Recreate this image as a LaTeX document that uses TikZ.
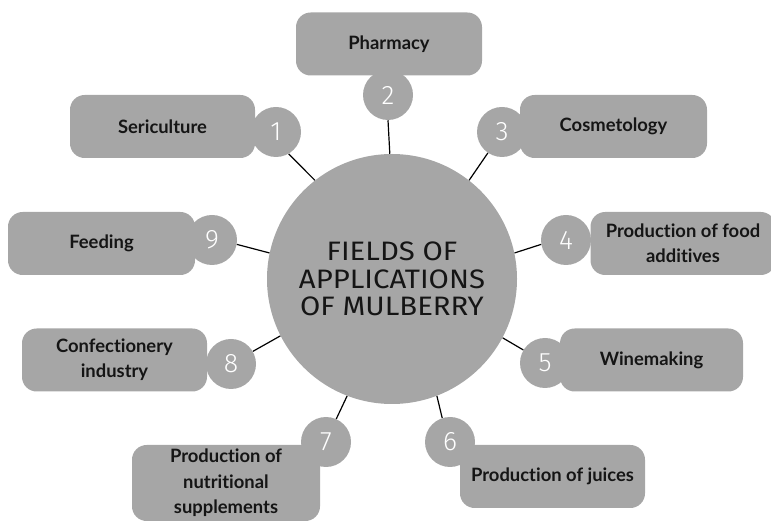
\documentclass[tikz,border=0pt]{standalone}
\usepackage{fontspec}
\setmainfont[Ligatures=NoCommon]{Lato}
\newfontfamily\numfont{Fira Sans Light}
\newfontfamily\titlefont[FakeStretch=1.1]{Fira Sans}
\definecolor{boxgray}{HTML}{A6A6A6}
\definecolor{labelink}{HTML}{151515}
\tikzset{
  labelbox/.style={draw=none, fill=boxgray, rounded corners=11pt, minimum height=47.25pt,
    inner sep=2pt, align=center, text=labelink, font=\fontsize{13.8}{19}\selectfont\bfseries},
  numdisc/.style={circle, fill=boxgray, minimum size=37.5pt, inner sep=0pt, text=white,
    font=\numfont\fontsize{20}{20}\selectfont},
  hubdisc/.style={circle, fill=boxgray, minimum size=187.5pt, inner sep=0pt, align=center,
    text=labelink, font=\titlefont\fontsize{20}{20.5}\selectfont},
  spoke/.style={draw=black, line width=0.9pt}
}
\begin{document}
\begin{tikzpicture}[x=0.75pt,y=-0.75pt]
\useasboundingbox (0,0) rectangle (771,523);
% label boxes
\node[labelbox, minimum width=139.5pt] (b2) at (389,44) {Pharmacy};
\node[labelbox, minimum width=138.75pt] (b1) at (162.5,126.5) {Sericulture};
\node[labelbox, minimum width=140.25pt] (b3) at (613.5,126.5) {Cosmetology};
\node[labelbox, minimum width=140.25pt] (b9) at (101.5,243.5) {Feeding};
\node[labelbox, minimum width=138.75pt] (b4) at (683,243.5) {Production of food\\additives};
\node[labelbox, minimum width=138.75pt] (b8) at (114.5,360) {Confectionery\\industry};
\node[labelbox, minimum width=137.25pt] (b5) at (651.5,360) {Winemaking};
\node[labelbox, minimum width=141pt, minimum height=57pt] (b7) at (226,483) {Production of\\nutritional\\supplements};
\node[labelbox, minimum width=138.75pt] (b6) at (552.5,476.5) {Production of juices};
% number discs
\node[numdisc] (n1) at (276,132) {1};
\node[numdisc] (n2) at (388,95) {2};
\node[numdisc] (n3) at (502,132) {3};
\node[numdisc] (n4) at (566,240) {4};
\node[numdisc] (n5) at (545,363) {5};
\node[numdisc] (n6) at (450,442) {6};
\node[numdisc] (n7) at (326,442) {7};
\node[numdisc] (n8) at (231,364) {8};
\node[numdisc] (n9) at (212,240) {9};
% hub
\node[hubdisc] (hub) at (392,279) {FIELDS OF\\APPLICATIONS\\OF MULBERRY};
% spokes
\draw[spoke] (n1.-60) -- (hub.128);
\draw[spoke] (n2.south) -- (hub.91);
\draw[spoke] (n3.-124) -- (hub.52.5);
\draw[spoke] (n4.190) -- (hub.12.5);
\draw[spoke] (n5.149) -- (hub.-28);
\draw[spoke] (n6.108) -- (hub.-69.7);
\draw[spoke] (n7.66) -- (hub.-111.5);
\draw[spoke] (n8.30) -- (hub.-153);
\draw[spoke] (n9.-10) -- (hub.168);
\end{tikzpicture}
\end{document}
